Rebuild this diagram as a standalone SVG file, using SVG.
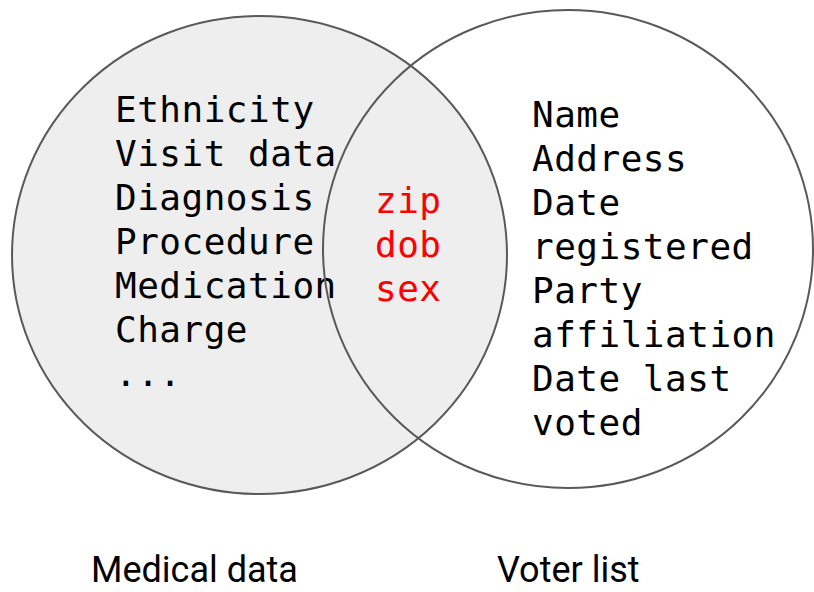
<svg xmlns="http://www.w3.org/2000/svg" width="814" height="592" viewBox="0 0 814 592">
<style>
.ring{stroke:#595959;stroke-width:2}
.mono{font-family:"DejaVu Sans Mono","Liberation Mono",monospace;font-size:36px;letter-spacing:0.5px;fill:#000}
.red{fill:#ff0000}
.lbl{font-family:Roboto,"Liberation Sans",sans-serif;font-size:36px;fill:#000}
</style>
<rect width="814" height="592" fill="#fff"/>
<g id="medical">
<ellipse class="ring" cx="259.5" cy="255" rx="247.5" ry="239" fill="#eeeeee"/>
<text class="mono" x="115" y="121.5">Ethnicity</text>
<text class="mono" x="115" y="165.5">Visit data</text>
<text class="mono" x="115" y="209.5">Diagnosis</text>
<text class="mono" x="115" y="253.5">Procedure</text>
<text class="mono" x="115" y="297.5">Medication</text>
<text class="mono" x="115" y="341.5">Charge</text>
<text class="mono" x="115" y="385.5">...</text>
<text class="lbl" x="91" y="582">Medical data</text>
</g>
<g id="voter">
<ellipse class="ring" cx="568" cy="249" rx="245" ry="239" fill="none"/>
<text class="mono" x="532" y="126.5">Name</text>
<text class="mono" x="532" y="170.5">Address</text>
<text class="mono" x="532" y="214.5">Date</text>
<text class="mono" x="532" y="258.5">registered</text>
<text class="mono" x="532" y="302.5">Party</text>
<text class="mono" x="532" y="346.5">affiliation</text>
<text class="mono" x="532" y="390.5">Date last</text>
<text class="mono" x="532" y="434.5">voted</text>
<text class="lbl" x="497" y="582">Voter list</text>
</g>
<g id="overlap">
<text class="mono red" x="375" y="212.5">zip</text>
<text class="mono red" x="375" y="256.5">dob</text>
<text class="mono red" x="375" y="300.5">sex</text>
</g>
<g id="connectors"></g>
</svg>
